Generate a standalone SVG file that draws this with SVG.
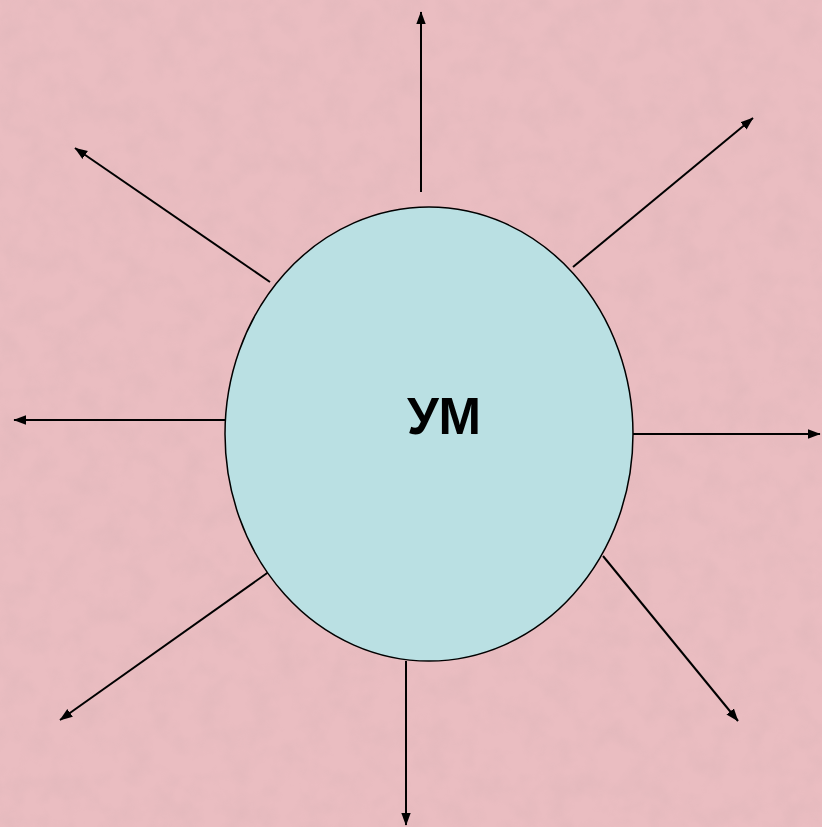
<svg xmlns="http://www.w3.org/2000/svg" width="822" height="827" viewBox="0 0 822 827">
<style>
.conn{stroke:#000;stroke-width:2;fill:none;marker-end:url(#ah)}
.lbl{font-family:"Liberation Sans",Arial,sans-serif;font-weight:bold;font-size:51px;fill:#000}
</style>
<defs>
<marker id="ah" viewBox="0 0 10 10" refX="9.5" refY="5" markerWidth="13" markerHeight="13" markerUnits="userSpaceOnUse" orient="auto">
<path d="M0,1.3 L10,5 L0,8.7 Z" fill="#000"/>
</marker>
<filter id="tex" x="0" y="0" width="100%" height="100%">
<feTurbulence type="fractalNoise" baseFrequency="0.04" numOctaves="3" seed="3" result="n"/>
<feColorMatrix in="n" type="matrix" values="0 0 0 0 0.6  0 0 0 0 0.4  0 0 0 0 0.42  0 0 0 1.2 -0.45"/>
</filter>
</defs>
<rect width="822" height="827" fill="#EABDC1"/>
<rect width="822" height="827" filter="url(#tex)" opacity="0.3"/>
<g id="connectors">
<line class="conn" x1="421" y1="192" x2="421" y2="12"/>
<line class="conn" x1="573" y1="267" x2="753" y2="118"/>
<line class="conn" x1="270" y1="282" x2="75" y2="148"/>
<line class="conn" x1="225" y1="420" x2="14" y2="420"/>
<line class="conn" x1="633" y1="434" x2="820" y2="434"/>
<line class="conn" x1="603" y1="556" x2="738" y2="721"/>
<line class="conn" x1="406" y1="661" x2="406" y2="825"/>
<line class="conn" x1="270" y1="571" x2="60" y2="720"/>
</g>
<g id="node-um">
<ellipse cx="429" cy="434" rx="204" ry="227" fill="#BAE0E3" stroke="#000" stroke-width="1.5"/>
<text class="lbl" x="444" y="434" text-anchor="middle">УМ</text>
</g>
</svg>
